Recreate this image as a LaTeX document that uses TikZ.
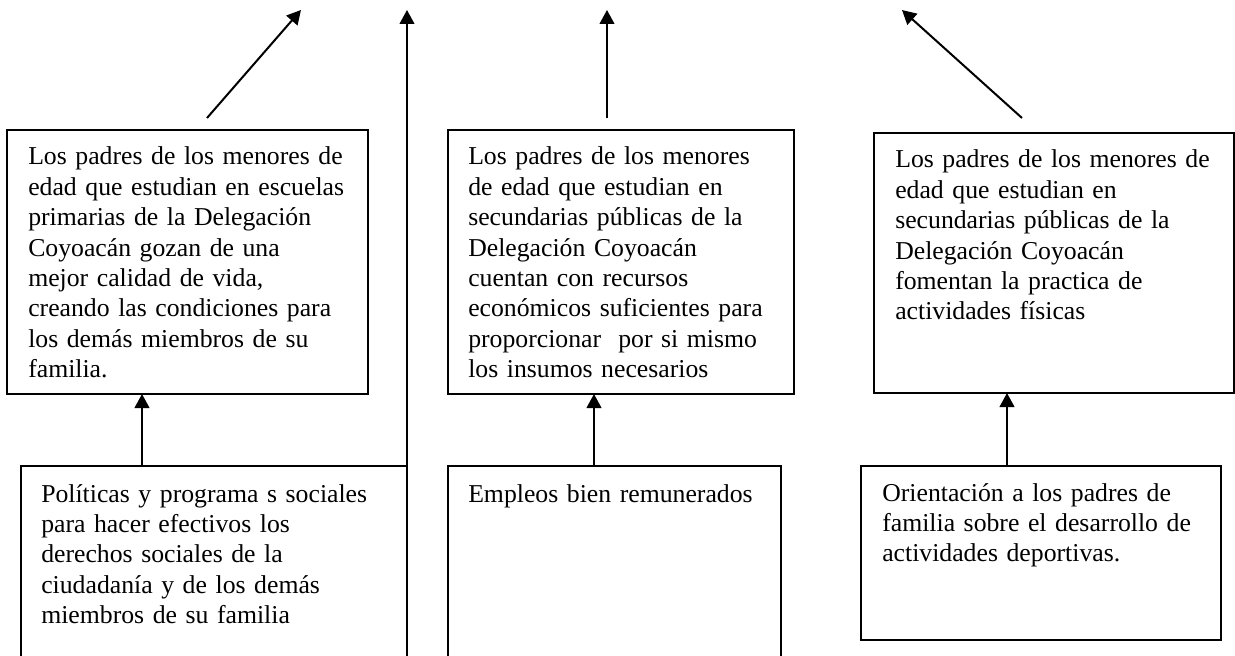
\documentclass[tikz,border=0pt]{standalone}
\usepackage{fontspec}
\setmainfont{Liberation Serif}
\usetikzlibrary{arrows.meta}
\tikzset{
  caja/.style={draw, line width=1.5pt, inner sep=0pt, outer sep=0pt, anchor=north west},
  texto/.style={anchor=base west, inner sep=0pt, text width=330pt, align=left,
    font=\fontsize{19.3}{22.8}\selectfont},
  flecha/.style={line width=1.5pt, -{Triangle[length=10.5pt,width=11pt]}}
}
\begin{document}
\begin{tikzpicture}[x=0.75pt,y=-0.75pt]%,cap=round
\path[use as bounding box, clip] (0,0) rectangle (1235,656);

% fila de arriba
\node[caja, minimum width=270.75pt, minimum height=198pt] (A) at (7,130) {};
\node[caja, minimum width=259.5pt, minimum height=198pt] (B) at (448,130) {};
\node[caja, minimum width=270pt, minimum height=195pt] (C) at (874,133) {};
\node[texto] (tA) at (28,165) {Los padres de los menores de\\ edad que estudian en escuelas\\ primarias de la Delegación\\ Coyoacán gozan de una\\ mejor calidad de vida,\\ creando las condiciones para\\ los demás miembros de su\\ familia.};
\node[texto] (tB) at (468,165) {Los padres de los menores\\ de edad que estudian en\\ secundarias públicas de la\\ Delegación Coyoacán\\ cuentan con recursos\\ económicos suficientes para\\ proporcionar~ por si mismo\\ los insumos necesarios};
\node[texto] (tC) at (895,168) {Los padres de los menores de\\ edad que estudian en\\ secundarias públicas de la\\ Delegación Coyoacán\\ fomentan la practica de\\ actividades físicas};

% fila de abajo
\node[caja, minimum width=289.5pt, minimum height=175.5pt] (D) at (21,466) {};
\node[caja, minimum width=249.75pt, minimum height=175.5pt] (E) at (448,466) {};
\node[caja, minimum width=270pt, minimum height=130.5pt] (F) at (861,466) {};
\node[texto] (tD) at (41,502) {Políticas y programa s sociales\\ para hacer efectivos los\\ derechos sociales de la\\ ciudadanía y de los demás\\ miembros de su familia};
\node[texto] (tE) at (468,502) {Empleos bien remunerados};
\node[texto] (tF) at (882,501) {Orientación a los padres de\\ familia sobre el desarrollo de\\ actividades deportivas.};

% flechas entre filas
\coordinate (x1) at (142,0);
\coordinate (x2) at (594,0);
\coordinate (x3) at (1007,0);
\draw[flecha] (D.north -| x1) -- (A.south -| x1);
\draw[flecha] (E.north -| x2) -- (B.south -| x2);
\draw[flecha] (F.north -| x3) -- (C.south -| x3);

% flechas de arriba
\coordinate (s1) at (207,118);
\coordinate (e1) at (301,10);
\coordinate (e2) at (407,10);
\coordinate (s3) at (607,118);
\coordinate (e3) at (607,10);
\coordinate (s4) at (1022,118);
\coordinate (e4) at (902,10);
\draw[flecha] (s1) -- (e1);
\draw[flecha] (D.north east) -- (e2);
\draw[flecha] (s3) -- (e3);
\draw[flecha] (s4) -- (e4);
\end{tikzpicture}
\end{document}
